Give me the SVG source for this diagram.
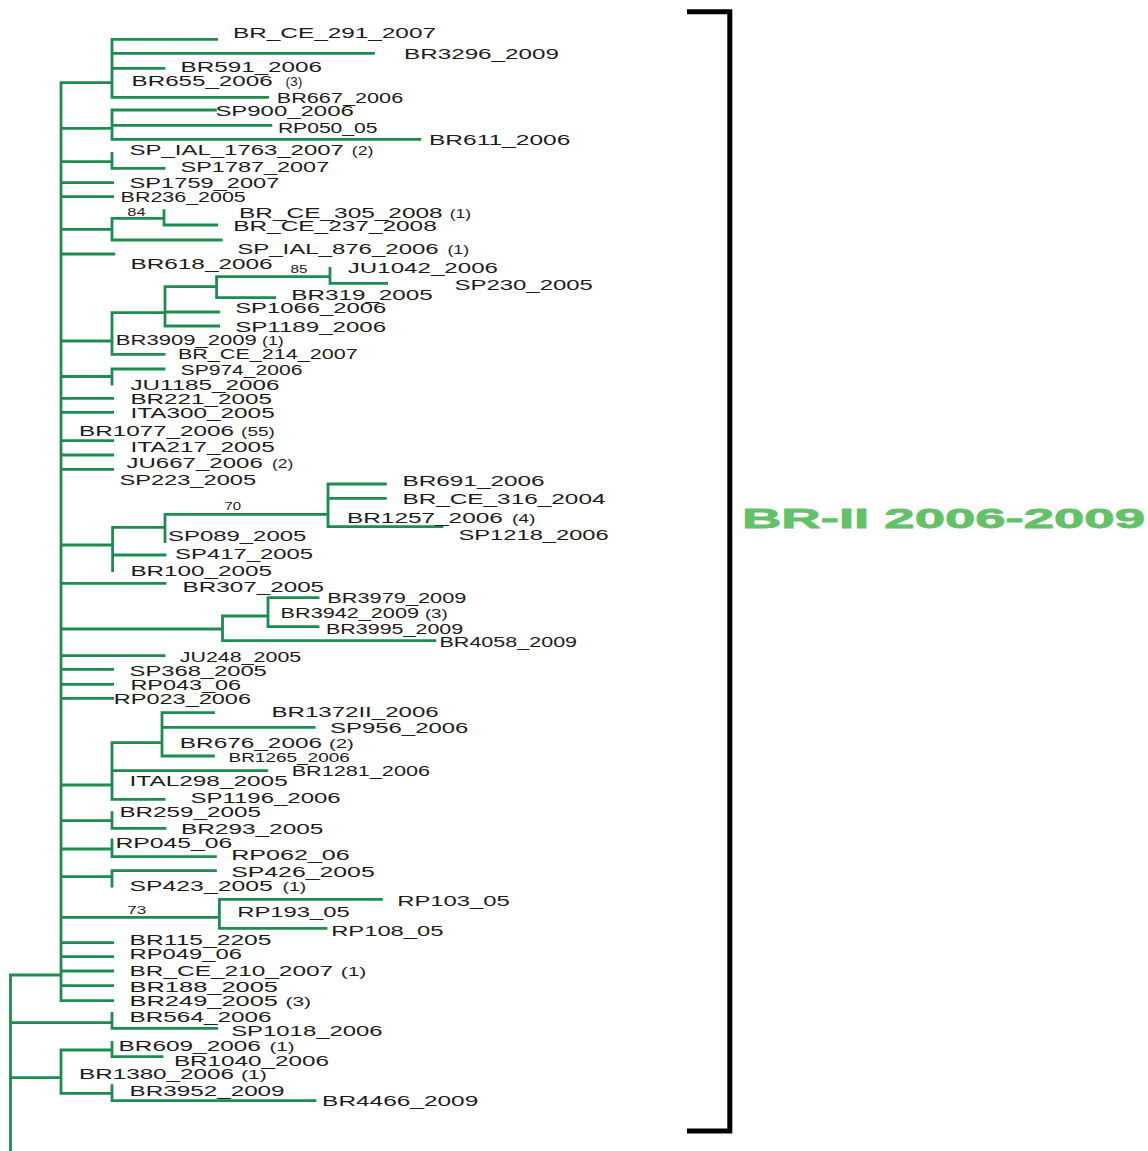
<svg xmlns="http://www.w3.org/2000/svg" width="1148" height="1151" viewBox="0 0 1148 1151">
<style>
.br{fill:none;stroke:#1d8c4f;stroke-width:2.8;stroke-linecap:square}
text{font-family:"Liberation Sans",Arial,sans-serif;fill:#1c1c1c}
.l{font-size:15.5px}
.s{font-size:14px}
.p{font-size:12px}
.b{font-size:10px}
.t{font-size:12px}
.clade{font-size:28px;font-weight:bold;fill:#63c167;stroke:#63c167;stroke-width:0.8}
</style>
<rect width="1148" height="1151" fill="#ffffff"/>
<g id="connectors">
<path class="br" d="M61 82.7V1000.7
M61 82.7H112 M112 39.3V97.3 M112 39.3H216.6 M112 53.3H373.5 M112 68.3H164 M112 97.3H267.6
M61 128.3H112 M112 110V139.3 M112 110H215.4 M112 125.3H270.8 M112 139.3H419.8
M61 161.7H112 M112 153.3V168.3 M112 168.3H164
M61 182.7H112.6 M61 196.7H112.6
M61 229.3H112 M112 218.3V240 M112 218.3H164 M164 210.7V225 M164 225H216.6 M112 240H221.3
M61 254H113.8
M61 341H112 M112 312.7V354.3 M112 312.7H165 M165 286.7V326 M165 286.7H216.6 M216.6 276.7V297.7 M216.6 276.7H330 M330 268.3V283.3 M330 283.3H386.6 M216.6 297.7H274.7 M165 312H218.6 M165 326H218.6 M112 354.3H164
M61 376.5H112 M112 369V384 M112 369H164
M61 398.3H112.6 M61 412.3H112.6 M61 440.7H112.6 M61 455H112.6 M61 469.3H112.6
M61 545H112.6 M112.6 527.3V570.7 M112.6 527.3H165 M165 514.3V541.7 M165 514.3H328 M328 484V526.7 M328 484H385.4 M328 498.3H385.4 M328 526.7H442 M112.6 555H165
M61 583.3H165
M61 629H222.5 M222.5 616V640.7 M222.5 616H268 M268 597.7V626.7 M268 597.7H318 M268 626.7H318 M222.5 640.7H434.8
M61 655.7H164 M61 669.3H112.6 M61 684.3H112.6 M61 698.3H112.6
M61 785H112 M112 742.7V799.3 M112 742.7H162 M162 712.7V756 M162 712.7H213.4 M162 727.3H314.2 M162 756H213.4 M112 770.7H266.8 M112 799.3H164
M61 820.7H112 M112 812.7V828.3 M112 828.3H165
M61 849H112 M112 840V856.7 M112 856.7H215.4
M61 876.7H112 M112 870.7V886 M112 870.7H215.4
M61 917.3H219.4 M219.4 899.3V928.3 M219.4 899.3H381.4 M219.4 928.3H326
M61 942.7H112.6 M61 956.7H112.6 M61 971H112.6 M61 985.7H112.6 M61 1000.7H112.6
M10.5 975V1151 M10.5 975H61 M10.5 1022.7H112 M112 1013.3V1028.3 M112 1028.3H216.6
M10.5 1077.7H61 M61 1050V1093.3 M61 1050H112 M112 1042.3V1056.7 M112 1056.7H162 M61 1093.3H112 M112 1085.7V1100.7 M112 1100.7H315"/>
<path id="bracket" d="M687 11.8H729.8V1131H687" fill="none" stroke="#000" stroke-width="5"/>
</g>
<g id="n1"><text class="l" x="233" y="38.2" textLength="203" lengthAdjust="spacingAndGlyphs">BR_CE_291_2007</text></g>
<g id="n2"><text class="l" x="404" y="58.8" textLength="155" lengthAdjust="spacingAndGlyphs">BR3296_2009</text></g>
<g id="n3"><text class="l" x="180.6" y="71.5" textLength="141.4" lengthAdjust="spacingAndGlyphs">BR591_2006</text></g>
<g id="n4"><text class="l" x="131.6" y="86.2" textLength="141" lengthAdjust="spacingAndGlyphs">BR655_2006</text><text class="p" x="285.4" y="86.2" textLength="17" lengthAdjust="spacingAndGlyphs">(3)</text></g>
<g id="n5"><text class="l" x="276.7" y="102.5" textLength="126.5" lengthAdjust="spacingAndGlyphs">BR667_2006</text></g>
<g id="n6"><text class="l" x="215.4" y="116.2" textLength="138.4" lengthAdjust="spacingAndGlyphs">SP900_2006</text></g>
<g id="n7"><text class="s" x="277.9" y="133" textLength="99.6" lengthAdjust="spacingAndGlyphs">RP050_05</text></g>
<g id="n8"><text class="l" x="428.9" y="144.8" textLength="141.5" lengthAdjust="spacingAndGlyphs">BR611_2006</text></g>
<g id="n9"><text class="l" x="129.6" y="154.8" textLength="214.3" lengthAdjust="spacingAndGlyphs">SP_IAL_1763_2007</text><text class="p" x="351.8" y="154.8" textLength="21.7" lengthAdjust="spacingAndGlyphs">(2)</text></g>
<g id="n10"><text class="l" x="180.6" y="171.5" textLength="148.6" lengthAdjust="spacingAndGlyphs">SP1787_2007</text></g>
<g id="n11"><text class="l" x="129.6" y="188.2" textLength="149.8" lengthAdjust="spacingAndGlyphs">SP1759_2007</text></g>
<g id="n12"><text class="s" x="120.6" y="202.3" textLength="125.2" lengthAdjust="spacingAndGlyphs">BR236_2005</text></g>
<g id="bs84"><text class="b" x="127.3" y="216.3" textLength="18.2" lengthAdjust="spacingAndGlyphs">84</text></g>
<g id="n13"><text class="l" x="239.1" y="217.8" textLength="203.6" lengthAdjust="spacingAndGlyphs">BR_CE_305_2008</text><text class="p" x="449.8" y="217.8" textLength="21.3" lengthAdjust="spacingAndGlyphs">(1)</text></g>
<g id="n14"><text class="l" x="233.2" y="231.2" textLength="203.6" lengthAdjust="spacingAndGlyphs">BR_CE_237_2008</text></g>
<g id="n15"><text class="l" x="237.2" y="253.8" textLength="201.5" lengthAdjust="spacingAndGlyphs">SP_IAL_876_2006</text><text class="p" x="447.4" y="253.8" textLength="21.8" lengthAdjust="spacingAndGlyphs">(1)</text></g>
<g id="n16"><text class="l" x="130.4" y="268.8" textLength="142.3" lengthAdjust="spacingAndGlyphs">BR618_2006</text></g>
<g id="bs85"><text class="b" x="290.5" y="272.6" textLength="17" lengthAdjust="spacingAndGlyphs">85</text></g>
<g id="n17"><text class="l" x="347.8" y="272.8" textLength="150.2" lengthAdjust="spacingAndGlyphs">JU1042_2006</text></g>
<g id="n18"><text class="l" x="454.5" y="289.8" textLength="138.4" lengthAdjust="spacingAndGlyphs">SP230_2005</text></g>
<g id="n19"><text class="l" x="291.3" y="299.5" textLength="141.5" lengthAdjust="spacingAndGlyphs">BR319_2005</text></g>
<g id="n20"><text class="l" x="235.2" y="312.8" textLength="151" lengthAdjust="spacingAndGlyphs">SP1066_2006</text></g>
<g id="n21"><text class="l" x="235.2" y="331.5" textLength="151" lengthAdjust="spacingAndGlyphs">SP1189_2006</text></g>
<g id="n22"><text class="l" x="115.8" y="344.8" textLength="141.1" lengthAdjust="spacingAndGlyphs">BR3909_2009</text><text class="p" x="262" y="344.8" textLength="21.8" lengthAdjust="spacingAndGlyphs">(1)</text></g>
<g id="n23"><text class="s" x="177.9" y="359" textLength="179.8" lengthAdjust="spacingAndGlyphs">BR_CE_214_2007</text></g>
<g id="n24"><text class="s" x="180.6" y="375" textLength="121.8" lengthAdjust="spacingAndGlyphs">SP974_2006</text></g>
<g id="n25"><text class="l" x="130.4" y="389.5" textLength="149" lengthAdjust="spacingAndGlyphs">JU1185_2006</text></g>
<g id="n26"><text class="l" x="130.4" y="403.8" textLength="141.5" lengthAdjust="spacingAndGlyphs">BR221_2005</text></g>
<g id="n27"><text class="l" x="130.4" y="417.8" textLength="144.3" lengthAdjust="spacingAndGlyphs">ITA300_2005</text></g>
<g id="n28"><text class="l" x="79" y="435.5" textLength="155" lengthAdjust="spacingAndGlyphs">BR1077_2006</text><text class="p" x="241.1" y="435.5" textLength="33.6" lengthAdjust="spacingAndGlyphs">(55)</text></g>
<g id="n29"><text class="l" x="130.4" y="451.5" textLength="144.3" lengthAdjust="spacingAndGlyphs">ITA217_2005</text></g>
<g id="n30"><text class="l" x="126.5" y="468.2" textLength="136.3" lengthAdjust="spacingAndGlyphs">JU667_2006</text><text class="p" x="272" y="468.2" textLength="21.3" lengthAdjust="spacingAndGlyphs">(2)</text></g>
<g id="n31"><text class="l" x="119.4" y="484.8" textLength="136.7" lengthAdjust="spacingAndGlyphs">SP223_2005</text></g>
<g id="n32"><text class="l" x="402.4" y="485.5" textLength="142.3" lengthAdjust="spacingAndGlyphs">BR691_2006</text></g>
<g id="n33"><text class="l" x="402.4" y="503.8" textLength="203.1" lengthAdjust="spacingAndGlyphs">BR_CE_316_2004</text></g>
<g id="bs70"><text class="b" x="224.5" y="510.3" textLength="16.6" lengthAdjust="spacingAndGlyphs">70</text></g>
<g id="n34"><text class="l" x="347" y="523.2" textLength="155.8" lengthAdjust="spacingAndGlyphs">BR1257_2006</text><text class="p" x="511.9" y="523.2" textLength="23.7" lengthAdjust="spacingAndGlyphs">(4)</text></g>
<g id="n35"><text class="l" x="458.5" y="539.5" textLength="150.2" lengthAdjust="spacingAndGlyphs">SP1218_2006</text></g>
<g id="n36"><text class="l" x="168" y="540.5" textLength="138.3" lengthAdjust="spacingAndGlyphs">SP089_2005</text></g>
<g id="n37"><text class="l" x="175.1" y="558.8" textLength="137.9" lengthAdjust="spacingAndGlyphs">SP417_2005</text></g>
<g id="n38"><text class="l" x="130.4" y="576.2" textLength="141.5" lengthAdjust="spacingAndGlyphs">BR100_2005</text></g>
<g id="n39"><text class="l" x="182.6" y="591.5" textLength="141.5" lengthAdjust="spacingAndGlyphs">BR307_2005</text></g>
<g id="n40"><text class="l" x="327.3" y="602.8" textLength="139.1" lengthAdjust="spacingAndGlyphs">BR3979_2009</text></g>
<g id="n41"><text class="l" x="280.6" y="617.8" textLength="138.4" lengthAdjust="spacingAndGlyphs">BR3942_2009</text><text class="p" x="424.9" y="617.8" textLength="22.9" lengthAdjust="spacingAndGlyphs">(3)</text></g>
<g id="n42"><text class="l" x="326" y="633.8" textLength="137.2" lengthAdjust="spacingAndGlyphs">BR3995_2009</text></g>
<g id="n43"><text class="l" x="439.5" y="647.2" textLength="137.6" lengthAdjust="spacingAndGlyphs">BR4058_2009</text></g>
<g id="n44"><text class="s" x="179.8" y="661.7" textLength="121.4" lengthAdjust="spacingAndGlyphs">JU248_2005</text></g>
<g id="n45"><text class="l" x="129.6" y="675.5" textLength="137.2" lengthAdjust="spacingAndGlyphs">SP368_2005</text></g>
<g id="n46"><text class="l" x="130.4" y="689.8" textLength="110.7" lengthAdjust="spacingAndGlyphs">RP043_06</text></g>
<g id="n47"><text class="l" x="113.8" y="703.8" textLength="137.2" lengthAdjust="spacingAndGlyphs">RP023_2006</text></g>
<g id="n48"><text class="l" x="271.5" y="716.5" textLength="167.2" lengthAdjust="spacingAndGlyphs">BR1372II_2006</text></g>
<g id="n49"><text class="l" x="330" y="732.8" textLength="138.4" lengthAdjust="spacingAndGlyphs">SP956_2006</text></g>
<g id="n50"><text class="l" x="179.8" y="748.2" textLength="142.3" lengthAdjust="spacingAndGlyphs">BR676_2006</text><text class="p" x="328.9" y="748.2" textLength="24.9" lengthAdjust="spacingAndGlyphs">(2)</text></g>
<g id="n51"><text class="t" x="228.5" y="761.6" textLength="121.3" lengthAdjust="spacingAndGlyphs">BR1265_2006</text></g>
<g id="n52"><text class="l" x="291.7" y="775.5" textLength="138.3" lengthAdjust="spacingAndGlyphs">BR1281_2006</text></g>
<g id="n53"><text class="l" x="129.6" y="786.2" textLength="158.1" lengthAdjust="spacingAndGlyphs">ITAL298_2005</text></g>
<g id="n54"><text class="l" x="190.5" y="803.2" textLength="150.2" lengthAdjust="spacingAndGlyphs">SP1196_2006</text></g>
<g id="n55"><text class="l" x="119.4" y="816.5" textLength="141.5" lengthAdjust="spacingAndGlyphs">BR259_2005</text></g>
<g id="n56"><text class="l" x="181" y="833.8" textLength="142.3" lengthAdjust="spacingAndGlyphs">BR293_2005</text></g>
<g id="n57"><text class="l" x="115.4" y="848.2" textLength="117" lengthAdjust="spacingAndGlyphs">RP045_06</text></g>
<g id="n58"><text class="l" x="231.2" y="859.8" textLength="118.6" lengthAdjust="spacingAndGlyphs">RP062_06</text></g>
<g id="n59"><text class="l" x="231.2" y="876.5" textLength="143.5" lengthAdjust="spacingAndGlyphs">SP426_2005</text></g>
<g id="n60"><text class="l" x="129.6" y="890.5" textLength="143.1" lengthAdjust="spacingAndGlyphs">SP423_2005</text><text class="p" x="282.6" y="890.5" textLength="23.7" lengthAdjust="spacingAndGlyphs">(1)</text></g>
<g id="n61"><text class="l" x="397.2" y="905.5" textLength="112.7" lengthAdjust="spacingAndGlyphs">RP103_05</text></g>
<g id="bs73"><text class="b" x="127.3" y="913.6" textLength="18.9" lengthAdjust="spacingAndGlyphs">73</text></g>
<g id="n62"><text class="l" x="237.2" y="916.5" textLength="112.6" lengthAdjust="spacingAndGlyphs">RP193_05</text></g>
<g id="n63"><text class="l" x="331.2" y="936.2" textLength="112.3" lengthAdjust="spacingAndGlyphs">RP108_05</text></g>
<g id="n64"><text class="l" x="129.6" y="944.8" textLength="141.9" lengthAdjust="spacingAndGlyphs">BR115_2205</text></g>
<g id="n65"><text class="l" x="129.6" y="958.8" textLength="112.3" lengthAdjust="spacingAndGlyphs">RP049_06</text></g>
<g id="n66"><text class="l" x="129.6" y="975.5" textLength="203.6" lengthAdjust="spacingAndGlyphs">BR_CE_210_2007</text><text class="p" x="340.7" y="975.5" textLength="25.7" lengthAdjust="spacingAndGlyphs">(1)</text></g>
<g id="n67"><text class="l" x="129.6" y="992.2" textLength="148.3" lengthAdjust="spacingAndGlyphs">BR188_2005</text></g>
<g id="n68"><text class="l" x="129.6" y="1006.2" textLength="148.3" lengthAdjust="spacingAndGlyphs">BR249_2005</text><text class="p" x="285.4" y="1006.2" textLength="25.7" lengthAdjust="spacingAndGlyphs">(3)</text></g>
<g id="n69"><text class="l" x="129.6" y="1022.2" textLength="141.9" lengthAdjust="spacingAndGlyphs">BR564_2006</text></g>
<g id="n70"><text class="l" x="231.2" y="1036.2" textLength="151.4" lengthAdjust="spacingAndGlyphs">SP1018_2006</text></g>
<g id="n71"><text class="l" x="118.6" y="1050.5" textLength="142.3" lengthAdjust="spacingAndGlyphs">BR609_2006</text><text class="p" x="269.6" y="1050.5" textLength="24.9" lengthAdjust="spacingAndGlyphs">(1)</text></g>
<g id="n72"><text class="l" x="173.9" y="1065.5" textLength="155" lengthAdjust="spacingAndGlyphs">BR1040_2006</text></g>
<g id="n73"><text class="l" x="79" y="1078.8" textLength="155" lengthAdjust="spacingAndGlyphs">BR1380_2006</text><text class="p" x="241.1" y="1078.8" textLength="25.7" lengthAdjust="spacingAndGlyphs">(1)</text></g>
<g id="n74"><text class="l" x="129.6" y="1096.2" textLength="155" lengthAdjust="spacingAndGlyphs">BR3952_2009</text></g>
<g id="n75"><text class="l" x="322.1" y="1106.2" textLength="156.2" lengthAdjust="spacingAndGlyphs">BR4466_2009</text></g>
<g id="clade-label"><text class="clade" x="742" y="527.7" textLength="403" lengthAdjust="spacingAndGlyphs">BR-II 2006-2009</text></g>
</svg>
